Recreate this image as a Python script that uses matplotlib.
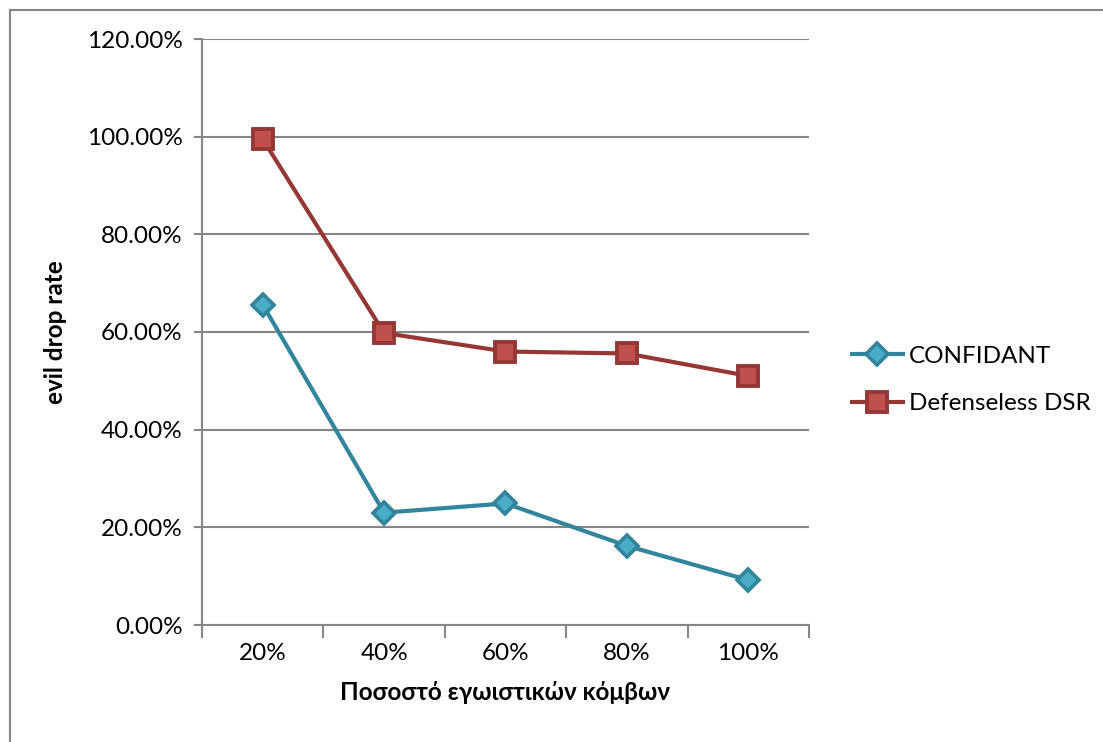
import matplotlib
matplotlib.use("Agg")
import matplotlib.pyplot as plt
from matplotlib.lines import Line2D
from matplotlib.ticker import FixedLocator, PercentFormatter

# Share of selfish nodes (x categories) and measured evil drop rate (%)
categories = ["20%", "40%", "60%", "80%", "100%"]
confidant = [65.6, 23.0, 24.9, 16.2, 9.2]
defenseless_dsr = [99.5, 59.8, 56.0, 55.6, 51.0]
y_ticks = [0, 20, 40, 60, 80, 100, 120]

plt.rcParams["font.family"] = ["Lato", "Noto Sans", "DejaVu Sans"]

W, H = 1103, 742
fig = plt.figure(figsize=(W / 100, H / 100), dpi=100)
fig.patch.set_facecolor("white")

ax = fig.add_axes([202 / W, 117 / H, 607 / W, 586 / H])

grid_c = "#868686"
fs = 17.5
x = list(range(len(categories)))

ax.plot(x, confidant, color="#31859C", lw=3.0, marker="D", markersize=11,
        markerfacecolor="#4BACC6", markeredgecolor="#31859C", markeredgewidth=2.6,
        label="CONFIDANT", zorder=3)
ax.plot(x, defenseless_dsr, color="#953735", lw=3.0, marker="s", markersize=14,
        markerfacecolor="#C0504D", markeredgecolor="#953735", markeredgewidth=2.8,
        label="Defenseless DSR", zorder=3)

ax.set_xlim(-0.5, len(categories) - 0.5)
ax.set_ylim(0, 120)
ax.set_yticks(y_ticks)
ax.yaxis.set_major_formatter(PercentFormatter(decimals=2))

ax.set_xticks(x)
ax.set_xticklabels(categories)
ax.xaxis.set_minor_locator(FixedLocator([i - 0.5 for i in range(len(categories) + 1)]))

ax.grid(axis="y", color=grid_c, lw=1.5)
ax.set_axisbelow(True)
for s in ("top", "right"):
    ax.spines[s].set_visible(False)
for s in ("left", "bottom"):
    ax.spines[s].set_color(grid_c)
    ax.spines[s].set_linewidth(1.5)

ax.tick_params(axis="y", which="major", length=6, width=1.5, color=grid_c,
               labelsize=fs, pad=8)
ax.tick_params(axis="x", which="major", length=0, labelsize=fs, pad=13)
ax.tick_params(axis="x", which="minor", length=9, width=1.5, color=grid_c)

ax.set_xlabel("Ποσοστό εγωιστικών κόμβων", fontsize=fs, fontweight="bold", labelpad=12)
ax.set_ylabel("evil drop rate", fontsize=fs, fontweight="bold", labelpad=14)

leg = ax.legend(loc="center left", bbox_to_anchor=(830 / W, 1 - 380 / H),
                bbox_transform=fig.transFigure, frameon=False, fontsize=fs,
                handlelength=2.1, handletextpad=0.25, labelspacing=1.1)

# outer chart frame
fig.add_artist(Line2D([10 / W, 10 / W], [0, 1 - 10 / H], color=grid_c, lw=1.5))
fig.add_artist(Line2D([10 / W, 1], [1 - 10 / H, 1 - 10 / H], color=grid_c, lw=1.5))

fig.savefig("out.png", dpi=100, facecolor="white")
